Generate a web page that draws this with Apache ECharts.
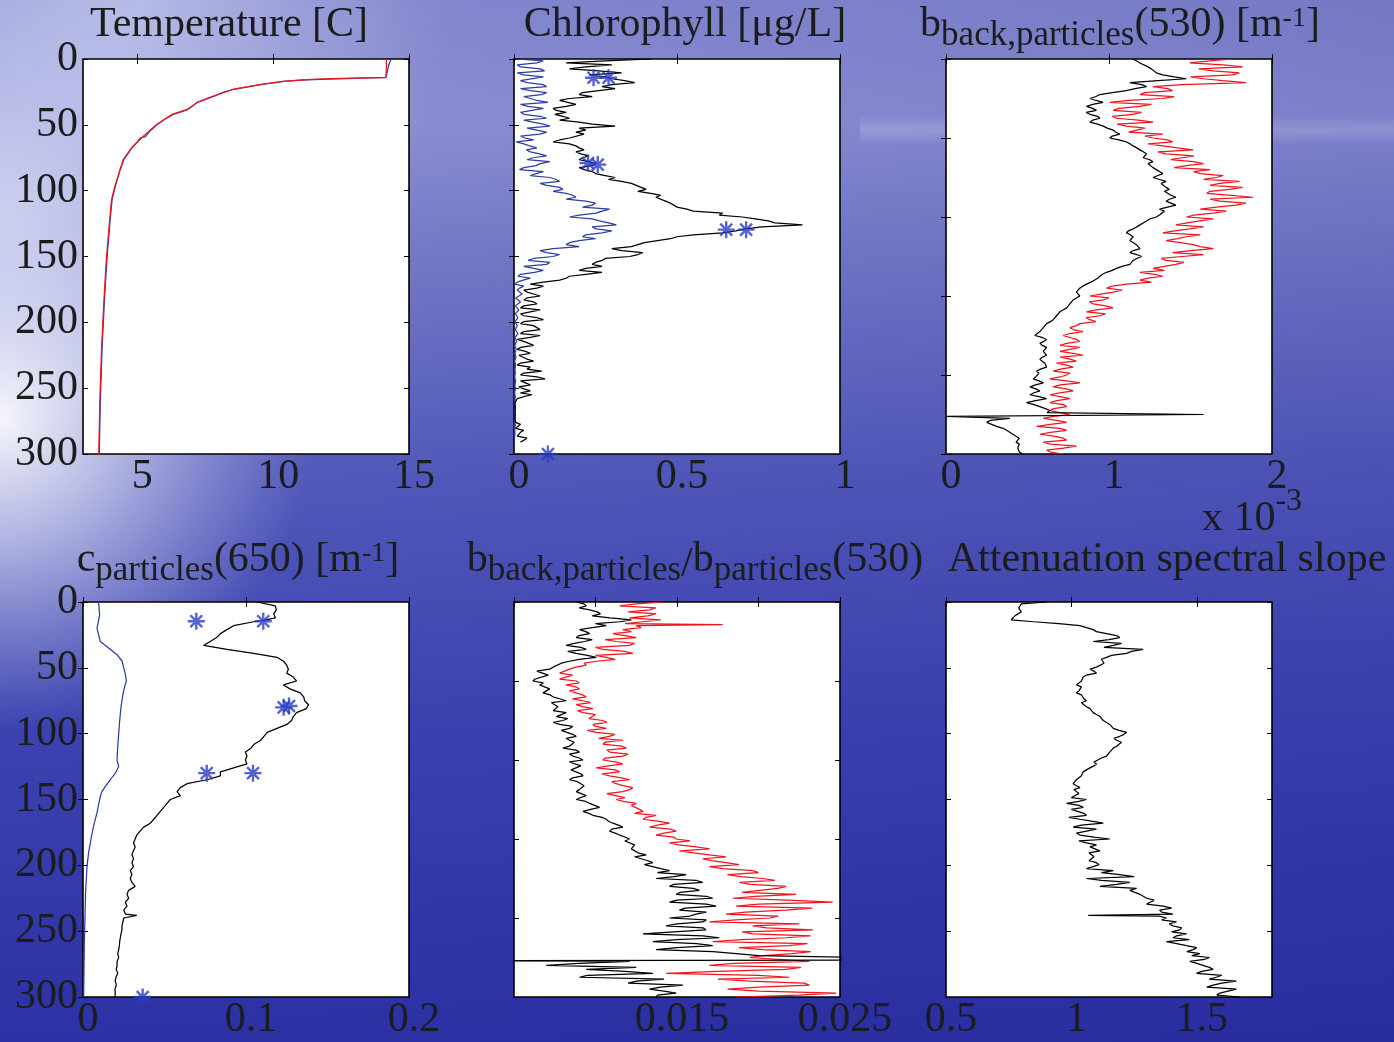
<!DOCTYPE html>
<html><head><meta charset="utf-8">
<script src="https://cdn.jsdelivr.net/npm/echarts@6/dist/echarts.min.js"></script>
<style>html,body{margin:0;padding:0;width:1394px;height:1042px;overflow:hidden;}#c{width:1394px;height:1042px;}</style>
</head><body><div id="c"></div>
<script>
// ---------------- DATA ----------------
const depthGrid = [0,3,6,9,12,15,18,21,24,27,30,33,36,39,42,45,48,51,54,57,60,63,66,69,72,75,78,81,84,87,90,93,96,99,102,105,108,111,114,117,120,123,126,129,132,135,138,141,144,147,150,153,156,159,162,165,168,171,174,177,180,183,186,189,192,195,198,201,204,207,210,213,216,219,222,225,228,231,234,237,240,243,246,249,252,255,258,261,264,267,270,273,276,279,282,285,288,291,294,297,300];
const halfGrid = [1.5,4.5,7.5,10.5,13.5,16.5,19.5,22.5,25.5,28.5,31.5,34.5,37.5,40.5,43.5,46.5,49.5,52.5,55.5,58.5,61.5,64.5,67.5,70.5,73.5,76.5,79.5,82.5,85.5,88.5,91.5,94.5,97.5,100.5,103.5,106.5,109.5,112.5,115.5,118.5,121.5,124.5,127.5,130.5,133.5,136.5,139.5,142.5,145.5,148.5,151.5,154.5,157.5,160.5,163.5,166.5,169.5,172.5,175.5,178.5,181.5,184.5,187.5,190.5,193.5,196.5,199.5,202.5,205.5,208.5,211.5,214.5,217.5,220.5,223.5,226.5,229.5,232.5,235.5,238.5,241.5,244.5,247.5,250.5,253.5,256.5,259.5,262.5,265.5,268.5,271.5,274.5,277.5,280.5,283.5,286.5,289.5,292.5,295.5,298.5];

// Temperature [depth, value]
const tempBlue = [[0,14.34],[5,14.25],[10,14.2],[14,14.15],[15.2,12.0],[16,11.0],[17,10.4],[19.5,9.55],[22.8,8.6],[25,8.2],[28.4,7.8],[33,7.2],[38.5,6.85],[42.3,6.3],[46,6.0],[50,5.72],[55,5.45],[59,5.3],[60,5.1],[63,5.0],[67.6,4.8],[72,4.65],[76.5,4.5],[85,4.35],[96.7,4.19],[106.8,4.07],[127,3.98],[152,3.88],[183,3.79],[221,3.7],[259,3.64],[300,3.6]];
const tempRed = [[0,14.17],[5,14.17],[10,14.16],[14.2,14.15],[14.8,12.5],[15.5,11.4],[17,10.35],[19.5,9.5],[22.8,8.55],[28.4,7.78],[33,7.2],[38.5,6.82],[42.3,6.25],[50,5.7],[58.7,5.22],[67.6,4.78],[76.5,4.48],[96.7,4.17],[106.8,4.05],[127,3.96],[152,3.86],[183,3.77],[221,3.68],[259,3.62],[300,3.58]];

// Chlorophyll
const chlBlack = [0.42,0.16,0.22,0.26,0.23,0.30,0.37,0.27,0.26,0.20,
 0.17,0.145,0.16,0.13,0.125,0.17,0.20,0.31,0.22,0.215,
 0.17,0.12,0.19,0.215,0.205,0.21,0.23,0.24,0.215,0.25,
 0.31,0.33,0.375,0.405,0.42,0.435,0.465,0.49,0.53,0.64,
 0.70,0.78,0.885,0.71,0.64,0.50,0.475,0.395,0.30,0.395,
 0.355,0.27,0.24,0.22,0.27,0.17,0.14,0.05,0.07,0.04,
 0.08,0.03,0.07,0.02,0.05,0.03,0.09,0.02,0.07,0.03,
 0.08,0.01,0.045,0.02,0.035,0.015,0.04,0.02,0.05,0.085,
 0.02,0.095,0.035,0.015,0.05,0.055,0.01,0.003,0.004,0.003,
 0.004,0.003,0.005,0.012,0.03,0.017,0.04,0.02,null,null,null];
const chlBlackHalf = [0.28,0.30,0.17,0.33,0.28,0.34,0.30,0.31,0.21,0.24,
 0.14,0.19,0.12,0.16,0.15,0.14,0.24,0.20,0.19,0.21,
 0.14,0.17,0.20,0.19,0.23,0.20,0.25,0.20,0.24,0.28,
 0.29,0.36,0.39,0.38,0.45,0.44,0.48,0.50,0.55,0.63,
 0.74,0.80,0.76,0.68,0.55,0.48,0.40,0.36,0.33,0.38,
 0.28,0.25,0.27,0.20,0.22,0.16,0.09,0.09,0.03,0.06,
 0.04,0.06,0.03,0.08,0.02,0.07,0.03,0.06,0.08,0.02,
 0.05,0.03,0.06,0.01,0.05,0.01,0.06,0.01,0.04,0.03,
 0.07,0.02,0.05,0.03,0.02,0.03,0.004,0.003,0.004,0.003,
 0.004,0.003,0.02,0.005,0.02,0.01,0.03,null,null,null];
const chlBlue = [0.007,0.07,0.02,0.094,0.03,0.084,0.04,0.10,0.05,0.084,
 0.033,0.104,0.043,0.09,0.03,0.10,0.058,0.11,0.043,0.08,
 0.033,0.007,0.048,0.038,0.079,0.058,0.11,0.068,0.017,0.068,
 0.11,0.14,0.10,0.15,0.16,0.19,0.22,0.24,0.293,0.252,
 0.17,0.262,0.314,0.252,0.27,0.21,0.20,0.16,0.12,0.10,
 0.12,0.043,0.10,0.028,0.063,0.012,0.028,0.002,0.017,0.007,
 0.022,0.007,0.017,0.004,0.012,0.003,0.015,0.005,0.01,0.003,
 0.008,0.002,0.006,0.003,0.009,0.002,0.005,0.003,0.004,0.002,
 0.003,0.002,0.004,0.002,0.003,0.002,0.003,0.002,0.002,0.003,
 0.002,0.003,0.002,0.004,0.002,0.003,0.002,null,null,null,null];
const chlBlueHalf = [0.09,0.01,0.08,0.01,0.09,0.02,0.09,0.02,0.10,0.03,
 0.07,0.02,0.09,0.02,0.08,0.03,0.09,0.04,0.10,0.02,
 0.06,0.03,0.07,0.05,0.10,0.04,0.08,0.03,0.09,0.05,
 0.13,0.08,0.14,0.12,0.18,0.16,0.25,0.21,0.27,0.20,
 0.24,0.29,0.24,0.30,0.22,0.25,0.17,0.20,0.08,0.14,
 0.06,0.11,0.03,0.09,0.02,0.05,0.01,0.03,0.01,0.025,
 0.005,0.02,0.004,0.015,0.004,0.012,0.003,0.01,0.004,0.012,
 0.003,0.008,0.002,0.007,0.003,0.006,0.002,0.005,0.003,0.004,
 0.002,0.005,0.003,0.004,0.002,0.004,0.003,0.002,0.004,0.002,
 0.003,0.002,0.004,0.002,0.003,0.002,null,null,null,null];
const chlStars = [[0.244,14.2],[0.29,14.2],[0.227,79],[0.257,80.2],[0.651,129.6],[0.712,129.6],[0.104,300]];

// b_back,particles(530), units of 1e-3
const bbBlack = [1.148,1.19,1.24,1.27,1.33,1.475,1.128,1.23,1.107,0.944,
 0.883,0.964,0.862,0.923,0.883,0.944,0.883,0.964,1.025,1.066,
 1.005,1.107,1.148,1.19,1.23,1.21,1.27,1.23,1.29,1.33,
 1.27,1.35,1.31,1.37,1.33,1.41,1.35,1.41,1.31,1.35,
 1.29,1.23,1.19,1.148,1.107,1.148,1.128,1.168,1.19,1.128,
 1.20,1.148,1.128,1.046,0.985,0.944,0.923,0.862,0.821,0.80,
 0.821,0.78,0.76,0.74,0.699,0.678,0.658,0.617,0.597,0.576,
 0.545,0.617,0.576,0.617,0.597,0.617,0.576,0.607,0.617,0.556,
 0.576,0.535,0.597,0.515,0.576,0.515,0.617,0.494,0.576,0.637,
 1.58,0.392,0.25,0.31,0.372,0.41,0.45,0.43,0.46,0.43,0.47];
const bbBlackHalf = [1.17,1.20,1.26,1.29,1.40,1.30,1.20,1.16,1.02,0.92,
 0.92,0.90,0.90,0.86,0.93,0.90,0.93,0.99,1.04,1.02,
 1.06,1.13,1.17,1.21,1.22,1.25,1.24,1.27,1.30,1.30,
 1.31,1.32,1.35,1.34,1.38,1.37,1.38,1.36,1.34,1.31,
 1.25,1.21,1.17,1.12,1.13,1.15,1.15,1.17,1.15,1.17,
 1.17,1.14,1.08,1.02,0.96,0.93,0.89,0.84,0.81,0.81,
 0.80,0.77,0.75,0.72,0.69,0.67,0.64,0.61,0.59,0.56,
 0.59,0.60,0.59,0.61,0.60,0.59,0.59,0.61,0.58,0.57,
 0.55,0.57,0.55,0.55,0.54,0.57,0.55,0.54,0.61,0.62,
 null,0.27,0.28,0.35,0.38,0.43,0.44,0.45,0.44,0.45];
const bbBlackExtra = [[271.5,0.003]];
const bbRed = [1.76,1.495,1.82,1.64,1.76,1.58,1.84,1.27,1.39,1.19,
 1.33,1.005,1.19,1.025,1.148,1.046,1.27,1.107,1.23,1.33,
 1.27,1.39,1.33,1.516,1.35,1.45,1.516,1.475,1.62,1.56,
 1.66,1.80,1.62,1.74,1.60,1.884,1.68,1.78,1.56,1.64,
 1.475,1.56,1.41,1.495,1.33,1.475,1.35,1.516,1.64,1.39,
 1.45,1.35,1.41,1.27,1.19,1.33,1.19,1.107,0.985,1.025,
 0.883,0.964,0.903,1.025,0.862,0.944,0.883,0.821,0.76,0.841,
 0.719,0.80,0.74,0.821,0.699,0.841,0.76,0.678,0.78,0.658,
 0.74,0.637,0.821,0.658,0.78,0.637,0.76,0.637,0.74,0.637,
 0.76,0.597,0.74,0.556,0.74,0.576,0.72,0.597,0.80,0.617,0.72];
const bbRedHalf = [1.62,1.70,1.55,1.80,1.50,1.70,1.45,1.36,1.22,1.40,
 1.12,1.26,1.06,1.20,1.02,1.18,1.05,1.22,1.12,1.22,
 1.36,1.24,1.42,1.30,1.52,1.38,1.58,1.40,1.52,1.70,
 1.58,1.68,1.82,1.62,1.75,1.62,1.84,1.66,1.72,1.52,
 1.64,1.48,1.58,1.40,1.56,1.42,1.44,1.56,1.50,1.58,
 1.32,1.46,1.34,1.34,1.28,1.24,1.26,1.02,1.08,0.95,
 1.00,0.88,0.98,0.92,0.98,0.86,0.92,0.80,0.78,0.76,
 0.76,0.82,0.70,0.76,0.78,0.70,0.80,0.74,0.70,0.76,
 0.70,0.74,0.70,0.74,0.70,0.70,0.68,0.72,0.66,0.70,
 0.66,0.68,0.64,0.70,0.64,0.66,0.74,0.64,0.72,0.64];

// c_particles(650)
const cpBlack = [0.1067,0.118,0.1186,0.117,0.118,0.1047,0.0924,0.0883,0.0843,0.082,
 0.078,0.074,0.0883,0.1047,0.119,0.123,0.125,0.126,0.125,0.129,
 0.131,0.123,0.127,0.1333,0.1354,0.136,0.1384,0.137,0.131,0.129,
 0.128,0.125,0.119,0.113,0.111,0.109,0.105,0.103,0.0996,0.1006,
 0.0996,0.1006,0.0924,0.0843,0.0843,0.076,0.0638,0.0597,0.0577,0.0597,
 0.0536,0.0515,0.0495,0.0474,0.0454,0.0434,0.0413,0.0372,0.035,0.033,
 0.032,0.031,0.032,0.031,0.030,0.031,0.030,0.031,0.029,0.030,
 0.029,0.030,0.032,0.028,0.027,0.028,0.026,0.027,0.025,0.026,
 0.025,0.0245,0.0239,0.0239,0.0233,0.0229,0.0225,0.0223,0.0219,0.0213,
 0.0219,0.0209,0.0209,0.0204,0.0213,0.0202,0.0198,0.0204,0.0196,0.0198,0.0196];
const cpBlackExtra = [[14,0.111],[238,0.033]];
const cpBlue = [[0,0.0096],[10,0.0102],[20,0.0086],[30,0.0106],[35,0.0157],[40,0.0209],[45,0.024],[50,0.025],[55,0.026],[60,0.0266],[65,0.0254],[70,0.0245],[80,0.0233],[90,0.0225],[100,0.0219],[110,0.0213],[120,0.0209],[125,0.0219],[130,0.0198],[135,0.0168],[140,0.0137],[145,0.0112],[150,0.0102],[160,0.0086],[170,0.0065],[180,0.0049],[190,0.0035],[200,0.0025],[220,0.0016],[240,0.0012],[260,0.0008],[280,0.0006],[300,0.0004]];
const cpStars = [[0.0695,14.6],[0.1106,14.6],[0.1231,80],[0.1264,79],[0.0759,130],[0.1043,130],[0.0366,300]];

// b_back,particles / b_particles (530)
const ratioBlack = [0.00882,0.00943,0.00964,0.0103,0.0109,0.0115,0.01066,0.00902,0.00964,0.00882,
 0.00933,0.0082,0.00943,0.00882,0.01005,0.00841,0.0078,0.00719,0.00637,0.00698,
 0.00616,0.00657,0.00719,0.00678,0.00739,0.0082,0.00719,0.0078,0.0082,0.0076,
 0.008,0.0078,0.00841,0.008,0.00882,0.00841,0.00882,0.008,0.00902,0.00862,
 0.00923,0.00841,0.00902,0.00862,0.00923,0.00841,0.00882,0.00923,0.00882,0.00943,
 0.00882,0.00964,0.01025,0.00923,0.00984,0.01066,0.01107,0.01168,0.01086,0.01148,
 0.01209,0.01189,0.0125,0.01209,0.01311,0.0125,0.01352,0.01291,0.01454,0.01556,
 0.01372,0.01658,0.01454,0.01637,0.01495,0.01719,0.01454,0.0174,0.01515,0.01617,
 0.01454,0.01658,0.01433,0.01678,0.01291,0.0176,0.01352,0.01719,0.01372,0.01863,
 0.026,0.0121,0.00698,0.00943,0.01352,0.00902,0.0125,0.01536,0.01331,0.01495,0.01372];
const ratioBlackHalf = [0.0093,0.0090,0.0101,0.0098,0.0122,0.0100,0.0098,0.0094,0.0090,0.0098,
 0.0087,0.0091,0.0083,0.0095,0.0090,0.0079,0.0074,0.0064,0.0071,0.0063,
 0.0068,0.0066,0.0072,0.0072,0.0078,0.0073,0.0077,0.0074,0.0079,0.0083,
 0.0074,0.0086,0.0079,0.0086,0.0082,0.0087,0.0084,0.0088,0.0084,0.0090,
 0.0084,0.0091,0.0085,0.0091,0.0086,0.0089,0.0093,0.0090,0.0089,0.0091,
 0.0094,0.0097,0.0097,0.0096,0.0104,0.0108,0.0114,0.0110,0.0112,0.0118,
 0.0118,0.0124,0.0122,0.0126,0.0124,0.0132,0.0130,0.0140,0.0138,0.0148,
 0.0162,0.0148,0.0160,0.0152,0.0168,0.0150,0.0168,0.0155,0.0168,0.0158,
 0.0168,0.0150,0.0166,0.0148,0.0166,0.0150,0.0162,0.0150,0.0172,0.0200,
 null,0.0090,0.0125,0.0118,0.0095,0.0142,0.0120,0.0140,0.0142,0.0138];
const ratioBlackExtra = [[272,0.026],[272.4,0.004]];
const ratioRed = [0.01413,0.01148,0.01331,0.01372,0.01209,0.01291,0.0125,0.01168,0.01107,0.0125,
 0.01127,0.01209,0.01045,0.01229,0.01066,0.01005,0.00943,0.00841,0.0078,0.0082,
 0.00882,0.0082,0.00902,0.00841,0.00943,0.00923,0.00882,0.00984,0.00923,0.01005,
 0.01045,0.00984,0.01066,0.01005,0.01086,0.01168,0.01045,0.01189,0.01086,0.01168,
 0.01045,0.01168,0.01005,0.01148,0.01086,0.01209,0.01127,0.01229,0.01168,0.01066,
 0.01127,0.0125,0.01209,0.01291,0.01372,0.01291,0.01454,0.01331,0.01495,0.01372,
 0.01495,0.01454,0.01617,0.01515,0.01699,0.01658,0.01801,0.01699,0.01965,0.0181,
 0.02026,0.01883,0.02169,0.02006,0.0223,0.01842,0.02455,0.01863,0.02169,0.01801,
 0.02067,0.01699,0.01965,0.02333,0.01965,0.02169,0.0172,0.0219,0.02026,0.0221,
 0.01945,0.02312,0.01699,0.02169,0.01434,0.0219,0.01945,0.02312,0.0181,0.02476,0.01863];
const ratioRedHalf = [0.0125,0.0137,0.0120,0.0132,0.0140,0.0118,0.0128,0.0122,0.0118,0.0106,
 0.0124,0.0100,0.0118,0.0100,0.0112,0.0093,0.0088,0.0083,0.0086,0.0078,
 0.0090,0.0088,0.0084,0.0092,0.0086,0.0097,0.0092,0.0089,0.0100,0.0096,
 0.0107,0.0100,0.0095,0.0112,0.0102,0.0106,0.0116,0.0107,0.0120,0.0106,
 0.0112,0.0108,0.0112,0.0104,0.0116,0.0110,0.0117,0.0121,0.0107,0.0118,
 0.0117,0.0122,0.0127,0.0124,0.0131,0.0138,0.0138,0.0146,0.0142,0.0148,
 0.0158,0.0151,0.0170,0.0160,0.0180,0.0171,0.0188,0.0178,0.0200,0.0189,
 0.0210,0.0195,0.0212,0.0190,0.0198,0.0218,0.0200,0.0233,0.0192,0.0212,
 0.0186,0.0225,0.0205,0.0190,0.0232,0.0190,0.0230,0.0188,0.0232,0.0203,
 0.0195,0.0185,0.0226,0.0175,0.0200,0.0175,0.0228,0.0200,0.0200,0.0225];
const ratioRedExtra = [[17.2,0.0178]];

// Attenuation spectral slope
const slopeBlack = [0.901,0.795,0.795,0.788,0.768,0.85,1.034,1.087,1.14,1.193,
 1.087,1.167,1.286,1.22,1.14,1.114,1.127,1.074,1.10,1.047,
 1.04,1.02,1.04,1.02,1.047,1.06,1.047,1.074,1.087,1.114,
 1.127,1.153,1.167,1.22,1.193,1.18,1.193,1.167,1.153,1.14,
 1.114,1.10,1.074,1.047,1.04,1.02,1.007,1.034,1.007,1.034,
 1.06,0.981,1.047,1.007,1.06,1.034,1.127,1.007,1.06,1.034,
 1.153,1.06,1.074,1.114,1.074,1.087,1.10,1.087,1.167,1.193,
 1.06,1.233,1.114,1.233,1.273,1.30,1.326,1.366,1.352,1.405,
 1.379,1.419,1.405,1.432,1.459,1.405,1.379,1.459,1.485,1.512,
 1.551,1.472,1.525,1.565,1.499,1.578,1.658,1.565,1.658,1.592,1.671];
const slopeBlackHalf = [0.80,0.79,0.80,0.775,0.76,0.95,1.06,1.10,1.18,1.15,
 1.20,1.13,1.24,1.16,1.12,1.13,1.10,1.09,1.06,1.05,
 1.03,1.04,1.03,1.04,1.05,1.04,1.06,1.08,1.10,1.12,
 1.14,1.16,1.19,1.21,1.17,1.20,1.18,1.16,1.15,1.12,
 1.09,1.09,1.06,1.05,1.03,1.02,1.02,1.01,1.03,1.00,
 1.03,1.03,1.00,1.05,0.99,1.08,1.04,1.10,1.02,1.09,
 1.03,1.10,1.08,1.07,1.09,1.07,1.11,1.06,1.12,1.25,
 1.12,1.18,1.26,1.24,1.28,1.33,1.30,1.40,1.36,null,
 1.36,1.39,1.44,1.40,1.42,1.47,1.42,1.50,1.46,1.48,
 1.53,1.50,1.55,1.52,1.60,1.55,1.60,1.54,1.66,1.58];
const slopeBlackExtra = [[14,0.755],[238,1.067],[238.6,1.35]];

// tick values
const tempTicks = [5,10,15];
const chlTicks = [0,0.5,1];
const bbTicks = [0,1,2];
const cpTicks = [0,0.1,0.2];
const ratioTicks = [0.005,0.01,0.015,0.02,0.025];
const ratioTickLabels = [0.015,0.025];
const slopeTicks = [0.5,1,1.5];

// ---------------- CHART ----------------
const FONT = '"Liberation Serif", "Times New Roman", serif';
const TXT = '#1c1c1c';
const BLUE = '#2e3da6', RED = '#f0141e', BLACK = '#000';

function toPairs(vals, half, extra) {
  const out = [];
  depthGrid.forEach((d, i) => { if (vals[i] != null) out.push([vals[i], d]); });
  if (half) halfGrid.forEach((d, i) => { if (half[i] != null) out.push([half[i], d]); });
  (extra || []).forEach(e => out.push([e[1], e[0]]));
  out.sort((a, b) => a[1] - b[1]);
  return out;
}
function flip(list) { return list.map(p => [p[1], p[0]]); }

const W = 326, H = 395;
const panels = [
  {left:83,  top:59,  min:3,     max:15,    ticks:tempTicks,  labels:tempTicks,  yInt:50, yLab:true},
  {left:514, top:59,  min:0,     max:1,     ticks:chlTicks,   labels:chlTicks,   yInt:50, yLab:false},
  {left:946, top:59,  min:0,     max:2,     ticks:bbTicks,    labels:bbTicks,    yInt:60, yLab:false},
  {left:83,  top:602, min:0,     max:0.2,   ticks:cpTicks,    labels:cpTicks,    yInt:50, yLab:true},
  {left:514, top:602, min:0.005, max:0.025, ticks:ratioTicks, labels:ratioTickLabels, yInt:60, yLab:false},
  {left:946, top:602, min:0.5,   max:1.8,   ticks:slopeTicks, labels:slopeTicks, yInt:50, yLab:false}
];

const grid = [], xAxis = [], yAxis = [];
const tick = {show:true, inside:true, length:5, lineStyle:{color:'#000', width:1}};
panels.forEach((p, i) => {
  grid.push({left:p.left, top:p.top, width:W, height:H, show:true, backgroundColor:'#fff', borderColor:'#000', borderWidth:1.6, containLabel:false});
  xAxis.push({type:'value', gridIndex:i, position:'bottom', min:p.min, max:p.max,
    axisLine:{show:false}, splitLine:{show:false},
    axisTick:Object.assign({}, tick, {customValues:p.ticks}),
    axisLabel:{customValues:p.labels, fontFamily:FONT, fontSize:42, color:TXT, margin:2, padding:[0,0,0,10],
      formatter: v => String(v)}});
  xAxis.push({type:'value', gridIndex:i, position:'top', min:p.min, max:p.max,
    axisLine:{show:false}, splitLine:{show:false},
    axisTick:Object.assign({}, tick, {customValues:p.ticks}), axisLabel:{show:false}});
  yAxis.push({type:'value', gridIndex:i, position:'left', inverse:true, min:0, max:300, interval:p.yInt,
    axisLine:{show:false}, splitLine:{show:false}, axisTick:tick,
    axisLabel:{show:p.yLab, fontFamily:FONT, fontSize:42, color:TXT, margin:5, showMinLabel:true, showMaxLabel:true}});
  yAxis.push({type:'value', gridIndex:i, position:'right', inverse:true, min:0, max:300, interval:p.yInt,
    axisLine:{show:false}, splitLine:{show:false}, axisTick:tick, axisLabel:{show:false}});
});

function line(i, data, color, z) {
  return {type:'line', xAxisIndex:2*i, yAxisIndex:2*i, data:data, symbol:'none', showSymbol:false,
    lineStyle:{color:color, width:1.25}, z:z||2, animation:false, silent:true};
}
const STAR = 'path://M8.6 0H11.4V20H8.6Z M0 8.6H20V11.4H0Z M2.0 4.0L4.0 2.0L18.0 16.0L16.0 18.0Z M16.0 2.0L18.0 4.0L4.0 18.0L2.0 16.0Z';
function stars(i, data) {
  return {type:'scatter', xAxisIndex:2*i, yAxisIndex:2*i, data:data, symbol:STAR, symbolSize:17,
    itemStyle:{color:'#2a3cc4'}, clip:false, z:5, animation:false, silent:true};
}

const series = [
  line(0, flip(tempBlue), BLUE, 2),
  line(0, flip(tempRed), RED, 3),
  line(1, toPairs(chlBlue, chlBlueHalf), BLUE, 2),
  line(1, toPairs(chlBlack, chlBlackHalf), BLACK, 3),
  stars(1, chlStars),
  line(2, toPairs(bbRed, bbRedHalf), RED, 2),
  line(2, toPairs(bbBlack, bbBlackHalf, bbBlackExtra), BLACK, 3),
  line(3, flip(cpBlue), BLUE, 2),
  line(3, toPairs(cpBlack, null, cpBlackExtra), BLACK, 3),
  stars(3, cpStars),
  line(4, toPairs(ratioRed, ratioRedHalf, ratioRedExtra), RED, 2),
  line(4, toPairs(ratioBlack, ratioBlackHalf, ratioBlackExtra), BLACK, 3),
  line(5, toPairs(slopeBlack, slopeBlackHalf, slopeBlackExtra), BLACK, 3)
];

// ---- titles with sub/superscripts ----
const mctx = document.createElement('canvas').getContext('2d');
function tw(t, s) { mctx.font = s + 'px "Liberation Serif"'; return mctx.measureText(t).width; }
const SZ = {n:42, sub:35, sup:28, sl:42, sup3:32};
const DY = {n:0, sub:9, sup:-11, sl:5, sup3:-21};
function composite(parts, cx, base) {
  const total = parts.reduce((a, p) => a + tw(p[0], SZ[p[1]]), 0);
  let x = cx - total / 2;
  return parts.map(p => {
    const s = SZ[p[1]];
    const el = {type:'text', x:x, y:base + DY[p[1]] - 0.34 * s, z:100,
      style:{text:p[0], font:s + 'px "Liberation Serif"', fill:TXT, textAlign:'left', verticalAlign:'middle'}};
    x += tw(p[0], s);
    return el;
  });
}
const titles = [].concat(
  composite([['Temperature [C]','n']], 229, 39),
  composite([['Chlorophyll [\u03bcg/L]','n']], 685, 39),
  composite([['b','n'],['back,particles','sub'],['(530) [m','n'],['-1','sup'],[']','n']], 1120, 39),
  composite([['x 10','n'],['-3','sup3']], 1252, 533),
  composite([['c','n'],['particles','sub'],['(650) [m','n'],['-1','sup'],[']','n']], 238, 574),
  composite([['b','n'],['back,particles','sub'],['/','sl'],['b','n'],['particles','sub'],['(530)','n']], 695, 574),
  composite([['Attenuation spectral slope','n']], 1167, 574)
);

const full = {x:0, y:0, width:1394, height:1042};
const bgOverlays = [
  {type:'rect', shape:full, z:-10, silent:true,
   style:{fill:{type:'radial', x:0.0, y:0.40, r:0.30, colorStops:[{offset:0,color:'rgba(255,255,255,0.95)'},{offset:0.4,color:'rgba(240,241,252,0.6)'},{offset:1,color:'rgba(210,214,244,0)'}]}}},
  {type:'rect', shape:full, z:-10, silent:true,
   style:{fill:{type:'radial', x:0.0, y:0.2, r:0.25, colorStops:[{offset:0,color:'rgba(235,237,252,0.55)'},{offset:1,color:'rgba(235,237,252,0)'}]}}},
  {type:'rect', shape:full, z:-10, silent:true,
   style:{fill:{type:'radial', x:0.1, y:0.0, r:0.3, colorStops:[{offset:0,color:'rgba(225,228,250,0.55)'},{offset:1,color:'rgba(225,228,250,0)'}]}}},
  {type:'rect', shape:{x:860, y:115, width:534, height:30}, z:-10, silent:true,
   style:{fill:{type:'linear', x:0, y:0, x2:0, y2:1, colorStops:[{offset:0,color:'rgba(190,194,235,0)'},{offset:0.5,color:'rgba(190,194,235,0.45)'},{offset:1,color:'rgba(190,194,235,0)'}]}}},
  {type:'rect', shape:full, z:-10, silent:true,
   style:{fill:{type:'linear', x:0, y:0, x2:1, y2:0, colorStops:[{offset:0,color:'rgba(20,20,130,0)'},{offset:1,color:'rgba(20,20,130,0.15)'}]}}}
];

const chart = echarts.init(document.getElementById('c'), null, {renderer:'canvas'});
chart.setOption({
  animation:false,
  backgroundColor:{type:'linear', x:0, y:0, x2:0, y2:1, colorStops:[
    {offset:0, color:'#868bd1'}, {offset:0.12, color:'#8e93d5'}, {offset:0.25, color:'#767cc9'},
    {offset:0.45, color:'#555cbc'}, {offset:0.7, color:'#3c43b0'}, {offset:1, color:'#2c31a5'}]},
  grid:grid, xAxis:xAxis, yAxis:yAxis, series:series,
  graphic:{elements: bgOverlays.concat(titles)}
});
</script></body></html>
